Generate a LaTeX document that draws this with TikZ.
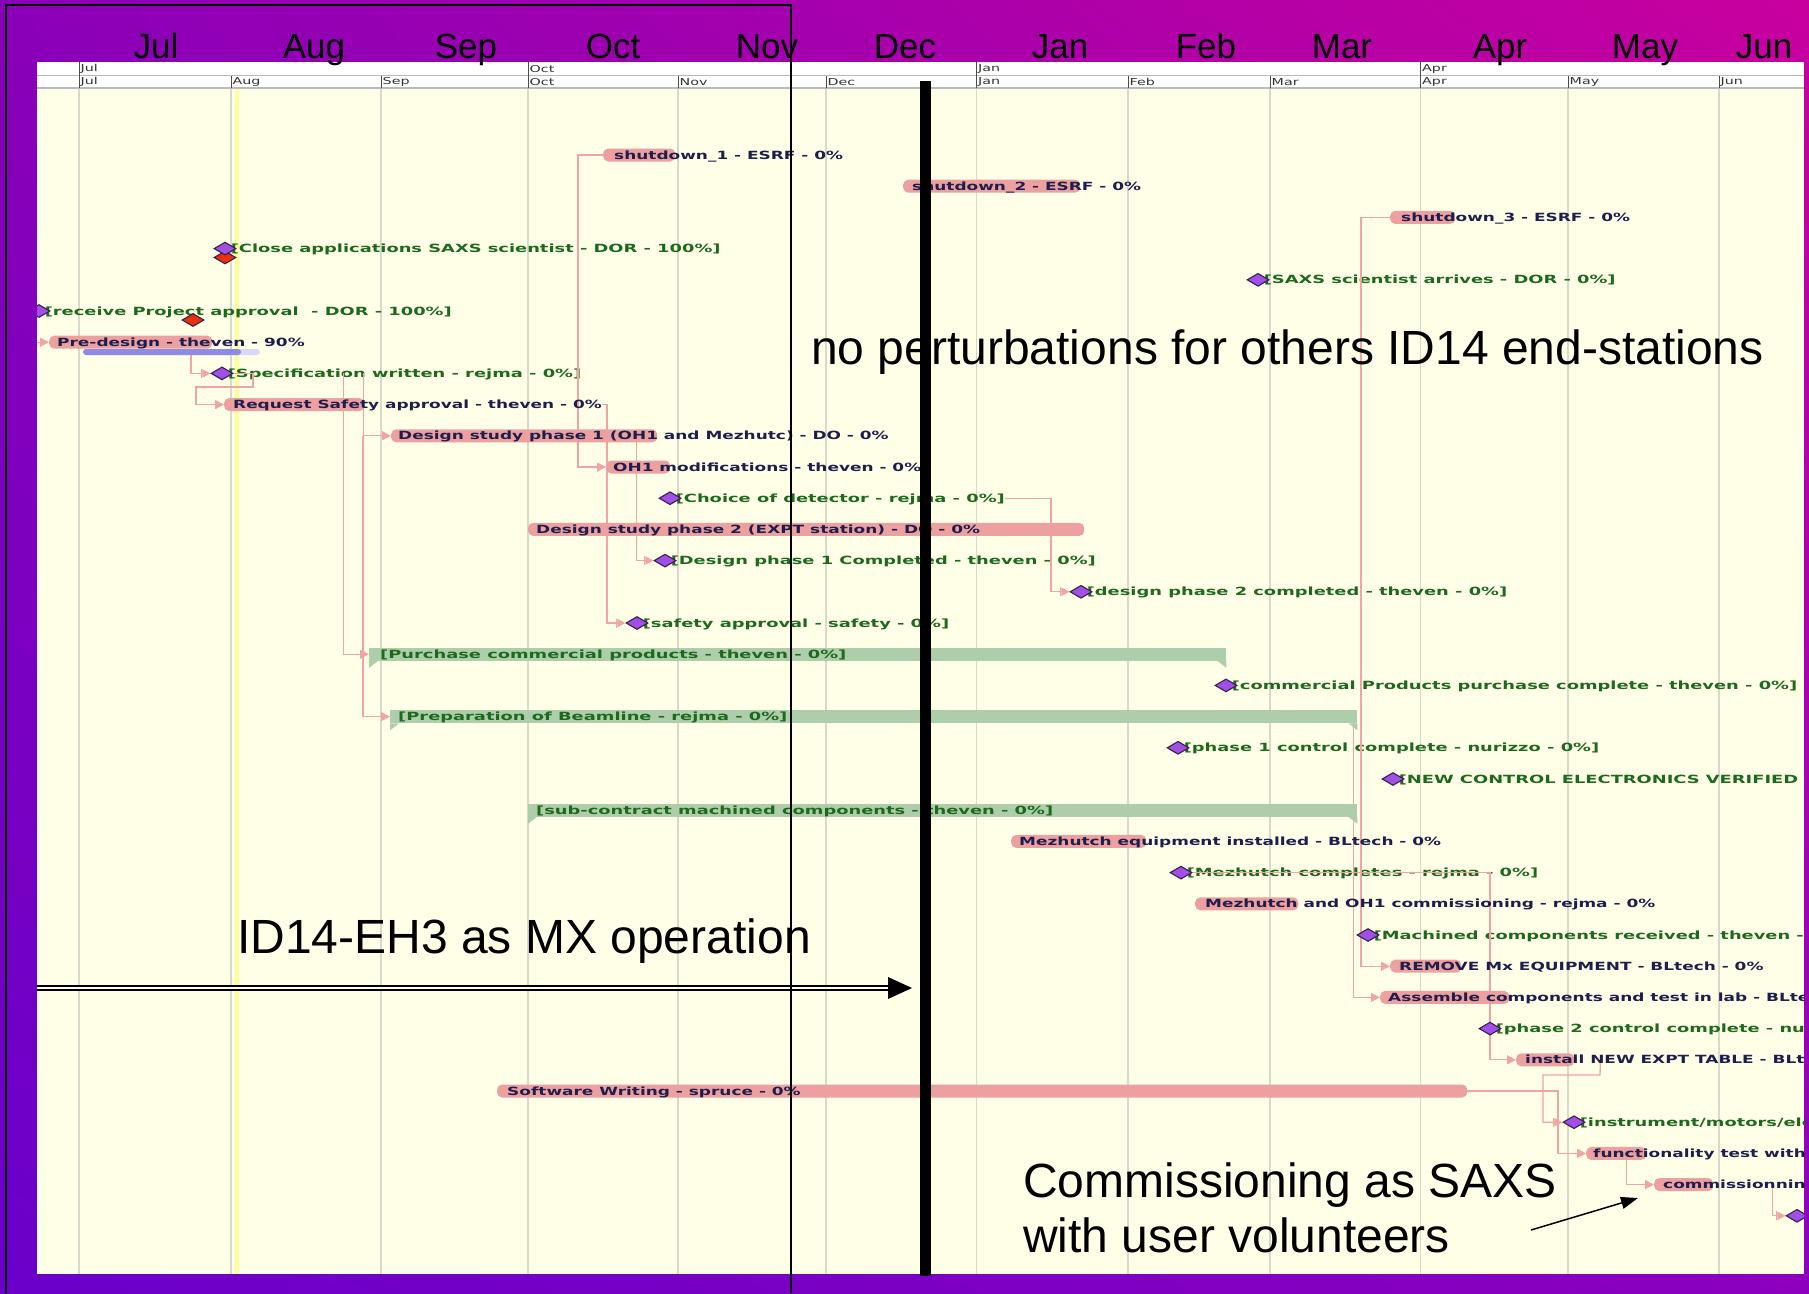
\documentclass[tikz,border=0pt]{standalone}
\usepackage{fontspec}
\setmainfont{Liberation Sans}
\newfontfamily\gf[FakeStretch=1.5]{DejaVu Sans}
\newfontfamily\gfm[FakeStretch=1.58]{DejaVu Sans}
\usetikzlibrary{shapes.geometric,arrows.meta,calc,shadings}
\pgfdeclarelayer{back}
\pgfdeclarelayer{mid}
\pgfsetlayers{back,mid,main}
\definecolor{bgTL}{HTML}{8A00B8}
\definecolor{bgTR}{HTML}{C8009E}
\definecolor{bgBL}{HTML}{6A00CA}
\definecolor{bgBR}{HTML}{8C00BE}
\definecolor{chartbg}{HTML}{FFFFE8}
\definecolor{gridc}{HTML}{D8D8CC}
\definecolor{todayc}{HTML}{FFFF99}
\definecolor{barc}{HTML}{ECA0A0}
\definecolor{depc}{HTML}{F0A4A4}
\definecolor{sumc}{HTML}{AECDAA}
\definecolor{msc}{HTML}{A050E6}
\definecolor{msred}{HTML}{E8300E}
\definecolor{msline}{HTML}{3A2048}
\definecolor{tasktxt}{HTML}{1E1E4E}
\definecolor{mstxt}{HTML}{1D6A1D}
\definecolor{basebl}{HTML}{8C8CE6}
\begin{document}
\begin{tikzpicture}[x=1pt,y=-1pt,
  gbar/.style={fill=barc, rounded corners=5pt, minimum height=13pt, inner sep=0pt, anchor=west},
  sbar/.style={fill=sumc, minimum height=13pt, inner sep=0pt, anchor=west},
  mstone/.style={diamond, draw=msline, line width=1.1pt, fill=msc, minimum width=22pt, minimum height=13pt, inner sep=0pt},
  mstoner/.style={mstone, fill=msred},
  tlab/.style={anchor=west, inner sep=0pt, text height=8pt, text depth=0pt, text=tasktxt, font=\fontsize{11.3}{12}\gf\bfseries},
  mlab/.style={anchor=west, inner sep=0pt, text height=8pt, text depth=0pt, text=mstxt, font=\fontsize{11.3}{12}\gfm\bfseries},
  depa/.style={draw=depc, line width=1.3pt, -{Bar[width=9pt,line width=1.2pt]Triangle[length=8pt,width=8pt]}},
  hlab/.style={anchor=west, inner sep=0pt, text=black!80, font=\fontsize{9.5}{10}\gf},
  bigtxt/.style={anchor=base west, inner sep=0pt, font=\fontsize{48}{56}\selectfont},
  monlab/.style={anchor=base, inner sep=0pt, font=\fontsize{35}{40}\selectfont}
]
\useasboundingbox (0,0) rectangle (1809,1293);

% ---------- background layer ----------
\begin{pgfonlayer}{back}
\shade[upper left=bgTL, upper right=bgTR, lower left=bgBL, lower right=bgBR] (0,0) rectangle (1809,1293);
\fill[chartbg] (37,88) rectangle (1804,1274);
\fill[white] (37,62) rectangle (1804,88);
\draw[gray!55, line width=1.5pt] (37,75.5) -- (1804,75.5);
\draw[gray!55, line width=1.8pt] (37,88) -- (1804,88);
\foreach \x in {79,231,381,528,678,826,976.5,1128,1270,1420.5,1568,1719}{
  \draw[gridc, line width=1.5pt] (\x,89) -- (\x,1274);
  \draw[black!70, line width=1pt] (\x,76) -- (\x,88);
}
\foreach \x in {79,528,976.5,1420.5}{\draw[black!70, line width=1pt] (\x,62) -- (\x,76);}
\draw[todayc, line width=4pt] (237,89) -- (237,1274);
\foreach \x/\m in {79/Jul,528/Oct,976.5/Jan,1420.5/Apr}{\node[hlab] (hq-\m) at (\x+1.5,69) {\m};}
\foreach \x/\m in {79/Jul,231/Aug,381/Sep,528/Oct,678/Nov,826/Dec,976.5/Jan,1128/Feb,1270/Mar,1420.5/Apr,1568/May,1719/Jun}{\node[hlab] (hm-\m) at (\x+1.5,82) {\m};}
\end{pgfonlayer}

% ---------- chart content (main layer) ----------
\begin{scope}
\clip (37,88) rectangle (1804,1274);
% task bars
\node[gbar, minimum width=72pt]  (sd1) at (603,155) {};
\node[gbar, minimum width=177pt] (sd2) at (903,186.2) {};
\node[gbar, minimum width=65pt]  (sd3) at (1390,217.4) {};
\node[gbar, minimum width=163pt] (pre) at (49,342.2) {};
\node[gbar, minimum width=140pt] (rsa) at (224,404.6) {};
\node[gbar, minimum width=266pt] (ds1) at (391,435.8) {};
\node[gbar, minimum width=64pt]  (oh1) at (606,467) {};
\node[gbar, minimum width=556pt] (ds2) at (528,529.4) {};
\node[gbar, minimum width=135pt] (mei) at (1011,841.4) {};
\node[gbar, minimum width=103pt] (moc) at (1195,903.8) {};
\node[gbar, minimum width=71pt]  (rem) at (1390,966.2) {};
\node[gbar, minimum width=129pt] (asm) at (1380,997.4) {};
\node[gbar, minimum width=58pt]  (ins) at (1516,1059.8) {};
\node[gbar, minimum width=970pt] (sw)  at (497,1091) {};
\node[gbar, minimum width=60pt]  (fun) at (1586,1153.4) {};
\node[gbar, minimum width=59pt]  (com) at (1654,1184.6) {};
% baseline under pre-design
\fill[basebl!35!white, rounded corners=3pt] (83,349) rectangle (260,355);
\fill[basebl, rounded corners=3pt] (83,349) rectangle (241,355);
% summary bars
\node[sbar, minimum width=857pt] (pur)  at (369,654.2) {};
\node[sbar, minimum width=967pt] (prep) at (390,716.6) {};
\node[sbar, minimum width=829pt] (sub)  at (528,810.2) {};
\foreach \n in {pur,prep,sub}{
  \fill[sumc] (\n.south west) -- ++(0,7) -- ++(9,-7) -- cycle;
  \fill[sumc] (\n.south east) -- ++(0,7) -- ++(-9,-7) -- cycle;
}
% task labels
\node[tlab] (sd1t) at (614,155) {shutdown\_1 - ESRF - 0\%};
\node[tlab] (sd2t) at (912,186.2) {shutdown\_2 - ESRF - 0\%};
\node[tlab] (sd3t) at (1401,217.4) {shutdown\_3 - ESRF - 0\%};
\node[tlab] (pret) at (57,342.2) {Pre-design - theven - 90\%};
\node[tlab] (rsat) at (233,404.6) {Request Safety approval - theven - 0\%};
\node[tlab] (ds1t) at (398,435.8) {Design study phase 1 (OH1 and Mezhutc) - DO - 0\%};
\node[tlab] (oh1t) at (613,467) {OH1 modifications - theven - 0\%};
\node[tlab] (ds2t) at (536,529.4) {Design study phase 2 (EXPT station) - DO - 0\%};
\node[tlab] (meit) at (1019,841.4) {Mezhutch equipment installed - BLtech - 0\%};
\node[tlab] (moct) at (1205,903.8) {Mezhutch and OH1 commissioning - rejma - 0\%};
\node[tlab] (remt) at (1399,966.2) {REMOVE Mx EQUIPMENT - BLtech - 0\%};
\node[tlab] (asmt) at (1388,997.4) {Assemble components and test in lab - BLtech - 0\%};
\node[tlab] (inst) at (1525,1059.8) {install NEW EXPT TABLE - BLtech - 0\%};
\node[tlab] (swt)  at (507,1091) {Software Writing - spruce - 0\%};
\node[tlab] (funt) at (1593,1153.4) {functionality test with};
\node[tlab] (comt) at (1663,1184.6) {commissionning};
% summary labels
\node[mlab] (purt)  at (380,654.2) {[Purchase commercial products - theven - 0\%]};
\node[mlab] (prept) at (398,716.6) {[Preparation of Beamline - rejma - 0\%]};
\node[mlab] (subt)  at (536,810.2) {[sub-contract machined components - theven - 0\%]};
% milestones
\node[mstoner] (clar) at (225,257.5) {};
\node[mstone] (cla) at (225,248.6) {};
\node[mstone] (ssa) at (1258,279.8) {};
\node[mstone] (rpa) at (39,311) {};
\node[mstone] (spec) at (222,373.4) {};
\node[mstone] (cod) at (670,498.2) {};
\node[mstone] (dp1) at (665,560.6) {};
\node[mstone] (dp2) at (1081,591.8) {};
\node[mstone] (saf) at (637,623) {};
\node[mstone] (cpp) at (1226,685.4) {};
\node[mstone] (p1c) at (1178,747.8) {};
\node[mstone] (nce) at (1393,779) {};
\node[mstone] (mzc) at (1181,872.6) {};
\node[mstone] (mcr) at (1368,935) {};
\node[mstone] (p2c) at (1490,1028.6) {};
\node[mstone] (imo) at (1574,1122.2) {};
\node[mstone] (fin) at (1797,1215.8) {};
\node[mstoner] (rpar) at (193,320) {};
\coordinate (lin) at (37,342.2);
\end{scope}

% ---------- connectors and milestone labels (middle layer) ----------
\begin{pgfonlayer}{mid}
\begin{scope}
\clip (37,88) rectangle (1804,1274);
% milestone labels
\node[mlab] (clat) at ($(cla.east)+(-6,0)$) {[Close applications SAXS scientist - DOR - 100\%]};
\node[mlab] (ssat) at ($(ssa.east)+(-6,0)$) {[SAXS scientist arrives - DOR - 0\%]};
\node[mlab] (rpat) at ($(rpa.east)+(-6,0)$) {[receive Project approval \ - DOR - 100\%]};
\node[mlab] (spect) at ($(spec.east)+(-6,0)$) {[Specification written - rejma - 0\%]};
\node[mlab] (codt) at ($(cod.east)+(-6,0)$) {[Choice of detector - rejma - 0\%]};
\node[mlab] (dp1t) at ($(dp1.east)+(-6,0)$) {[Design phase 1 Completed - theven - 0\%]};
\node[mlab] (dp2t) at ($(dp2.east)+(-6,0)$) {[design phase 2 completed - theven - 0\%]};
\node[mlab] (saft) at ($(saf.east)+(-6,0)$) {[safety approval - safety - 0\%]};
\node[mlab] (cppt) at ($(cpp.east)+(-6,0)$) {[commercial Products purchase complete - theven - 0\%]};
\node[mlab] (p1ct) at ($(p1c.east)+(-6,0)$) {[phase 1 control complete - nurizzo - 0\%]};
\node[mlab] (ncet) at ($(nce.east)+(-6,0)$) {[NEW CONTROL ELECTRONICS VERIFIED};
\node[mlab] (mzct) at ($(mzc.east)+(-6,0)$) {[Mezhutch completes - rejma - 0\%]};
\node[mlab] (mcrt) at ($(mcr.east)+(-6,0)$) {[Machined components received - theven - 0\%]};
\node[mlab] (p2ct) at ($(p2c.east)+(-6,0)$) {[phase 2 control complete - nurizzo - 0\%]};
\node[mlab] (imot) at ($(imo.east)+(-6,0)$) {[instrument/motors/electronics};
% connectors
\draw[depa] (sd1.west) -- (578,155) |- (oh1.west);
\draw[depa] (lin) -- (pre.west);
\draw[depa] ($(pre.south west)+(142,0)$) |- (spec.west);
\draw[depa] (spec.east) -- (253,373.4) -- (253,387) -- (196,387) |- (rsa.west);
\draw[depa] ($(spec.east)+(110,0)$) |- (pur.west);
\draw[depa] ($(spec.east)+(130,0)$) |- (ds1.west);
\draw[depa] (363,435.8) |- (prep.west);
\draw[depa] (rsat.east) -- (607,404.6) |- (saf.west);
\draw[depa] ($(ds1.east)+(-21,0)$) |- (dp1.west);
\draw[depa] (codt.east) -- (1051,498.2) |- (dp2.west);
\draw[depa] (sd3.west) -- (1361,217.4) |- (rem.west);
\draw[depa] ($(prep.east)+(-4,0)$) |- (asm.west);
\draw[depa] (mzc.east) -- (1490,872.6) |- (ins.west);
\draw[depa] ($(ins.east)+(26,0)$) -- (1600,1075) -- (1543,1075) |- (imo.west);
\draw[depa] (sw.east) -- (1558,1091) |- (fun.west);
\draw[depa] ($(fun.east)+(-20,0)$) |- (com.west);
\draw[depa] ($(com.east)+(59,0)$) |- (fin.west);
\end{scope}
\end{pgfonlayer}

% ---------- big month labels ----------
\foreach \x/\m in {156/Jul,314/Aug,466/Sep,613/Oct,767/Nov,905/Dec,1060/Jan,1206/Feb,1342/Mar,1500/Apr,1645/May,1764/Jun}{\node[monlab] (mb-\m) at (\x,58) {\m};}

% ---------- overlays ----------
\coordinate (vt) at (925.5,81);
\coordinate (vb) at (925.5,1276);
\draw[line width=11pt] (vt) -- (vb);
\node[bigtxt] (nopert) at (811,364) {no perturbations for others ID14 end-stations};
\node[bigtxt] (mxop) at (237,953) {ID14-EH3 as MX operation};
\node[bigtxt] (cs1) at (1023,1197) {Commissioning as SAXS};
\node[bigtxt] (cs2) at (1023,1252) {with user volunteers};
\coordinate (mxs) at (37,988);
\coordinate (mxe) at (912,988);
\draw[line width=2pt, double=chartbg, double distance=2.5pt] (mxs) -- ($(mxe)+(-22,0)$);
\fill (mxe) -- ++(-24,-11) -- ++(0,22) -- cycle;
\coordinate (ca1) at (1531,1230);
\coordinate (ca2) at (1638,1198);
\draw[line width=1.5pt, -{Triangle[length=17pt,width=12pt]}] (ca1) -- (ca2);
\draw[line width=1.5pt] (6,1293) -- (6,5) -- (791,5) -- (791,1293);
\end{tikzpicture}
\end{document}
